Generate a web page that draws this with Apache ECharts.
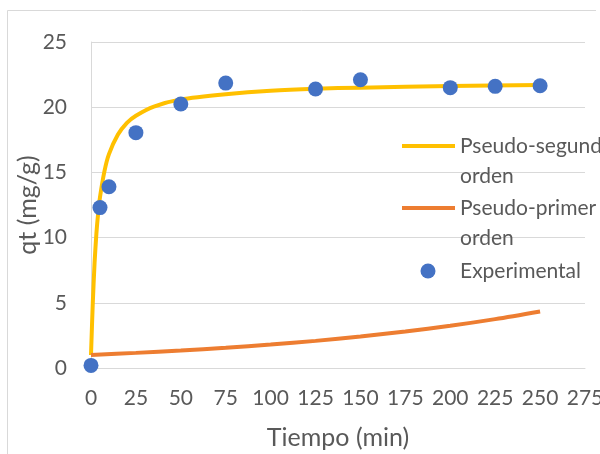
<!DOCTYPE html>
<html>
<head>
<meta charset="utf-8">
<script src="https://cdn.jsdelivr.net/npm/echarts@6/dist/echarts.min.js"></script>
<style>
html,body{margin:0;padding:0;background:#fff;}
#chart{width:600px;height:454px;}
</style>
</head>
<body>
<div id="chart"></div>
<script>
// ---- data ----
var xTicks = [0, 25, 50, 75, 100, 125, 150, 175, 200, 225, 250, 275];
var yTicks = [0, 5, 10, 15, 20, 25];

var expTime = [0, 5, 10, 25, 50, 75, 125, 150, 200, 225, 250];
var expQt   = [0.2, 12.3, 13.9, 18.05, 20.25, 21.85, 21.4, 22.1, 21.5, 21.6, 21.65];

var psoTime = [0, 1, 2, 3, 4, 5, 7.5, 10, 15, 20, 25, 35, 50, 75, 100, 125, 150, 200, 250];
var psoQt   = [1.0, 5.0, 8.1, 10.3, 11.9, 13.1, 15.1, 16.4, 17.9, 18.8, 19.35, 20.05, 20.6, 21.0, 21.27, 21.42, 21.5, 21.63, 21.7];

var pfoTime = [0, 25, 50, 75, 100, 125, 150, 175, 200, 225, 250];
var pfoQt   = [1.0, 1.16, 1.34, 1.55, 1.8, 2.08, 2.42, 2.8, 3.24, 3.75, 4.34];

var seriesNames = ['Pseudo-segundo orden', 'Pseudo-primer orden', 'Experimental'];
var legendLines = [['Pseudo-segundo', 'orden'], ['Pseudo-primer', 'orden'], ['Experimental']];

function pairs(xs, ys) { return xs.map(function (x, i) { return [x, ys[i]]; }); }

var FONT = 'Lato';
var TXT = '#595959';
var GRID = '#d9d9d9';
var C_YEL = '#FFC000', C_ORA = '#ED7D31', C_BLU = '#4472C4';

var chart = echarts.init(document.getElementById('chart'), null, {renderer: 'canvas'});

// legend drawn as graphic (Excel-style wrapped entries)
var lg = [];
var legY = [146, 208, 271];
var legColors = [C_YEL, C_ORA, C_BLU];
for (var i = 0; i < 3; i++) {
  if (i < 2) {
    lg.push({type: 'line', shape: {x1: 402, y1: legY[i], x2: 455, y2: legY[i]},
      style: {stroke: legColors[i], lineWidth: 4}, z: 10});
  } else {
    lg.push({type: 'circle', shape: {cx: 428, cy: legY[i], r: 7.5},
      style: {fill: legColors[i]}, z: 10});
  }
  legendLines[i].forEach(function (t, k) {
    lg.push({type: 'text', x: 460, y: legY[i] + k * 30.5,
      style: {text: t, fill: TXT, font: '21px ' + FONT, textVerticalAlign: 'middle', textAlign: 'left'}, z: 10});
  });
}
// outer chart-area border (only top and left visible)
lg.push({type: 'polyline', shape: {points: [[596, 10.5], [7.5, 10.5], [7.5, 460]]},
  style: {stroke: GRID, lineWidth: 1, fill: null}, z: 0});

var option = {
  backgroundColor: '#ffffff',
  animation: false,
  textStyle: {fontFamily: FONT},
  grid: {left: 91, right: 15, top: 42, bottom: 86, containLabel: false, outerBoundsMode: 'none'},
  xAxis: {
    type: 'value', min: xTicks[0], max: xTicks[xTicks.length - 1], interval: 25,
    name: 'Tiempo (min)', nameLocation: 'middle', nameGap: 57,
    nameTextStyle: {color: TXT, fontSize: 25, fontFamily: FONT},
    axisLine: {show: true, lineStyle: {color: GRID, width: 1}},
    axisTick: {show: false},
    splitLine: {show: false},
    axisLabel: {color: TXT, fontSize: 21, fontFamily: FONT, margin: 20}
  },
  yAxis: {
    type: 'value', min: yTicks[0], max: yTicks[yTicks.length - 1], interval: 5,
    name: 'qt (mg/g)', nameLocation: 'middle', nameGap: 51, nameMoveOverlap: false,
    nameTextStyle: {color: TXT, fontSize: 25, fontFamily: FONT},
    axisLine: {show: true, lineStyle: {color: GRID, width: 1}},
    axisTick: {show: false},
    splitLine: {show: true, lineStyle: {color: GRID, width: 1}},
    axisLabel: {color: TXT, fontSize: 21, fontFamily: FONT, margin: 24}
  },
  series: [
    {name: seriesNames[0], type: 'line', data: pairs(psoTime, psoQt), smooth: 0.25,
      showSymbol: false, lineStyle: {color: C_YEL, width: 4}, itemStyle: {color: C_YEL}, z: 2},
    {name: seriesNames[1], type: 'line', data: pairs(pfoTime, pfoQt), smooth: 0.3,
      showSymbol: false, lineStyle: {color: C_ORA, width: 4}, itemStyle: {color: C_ORA}, z: 2},
    {name: seriesNames[2], type: 'scatter', data: pairs(expTime, expQt), symbolSize: 15,
      itemStyle: {color: C_BLU, opacity: 1}, z: 3}
  ],
  graphic: lg
};
chart.setOption(option);
</script>
</body>
</html>
